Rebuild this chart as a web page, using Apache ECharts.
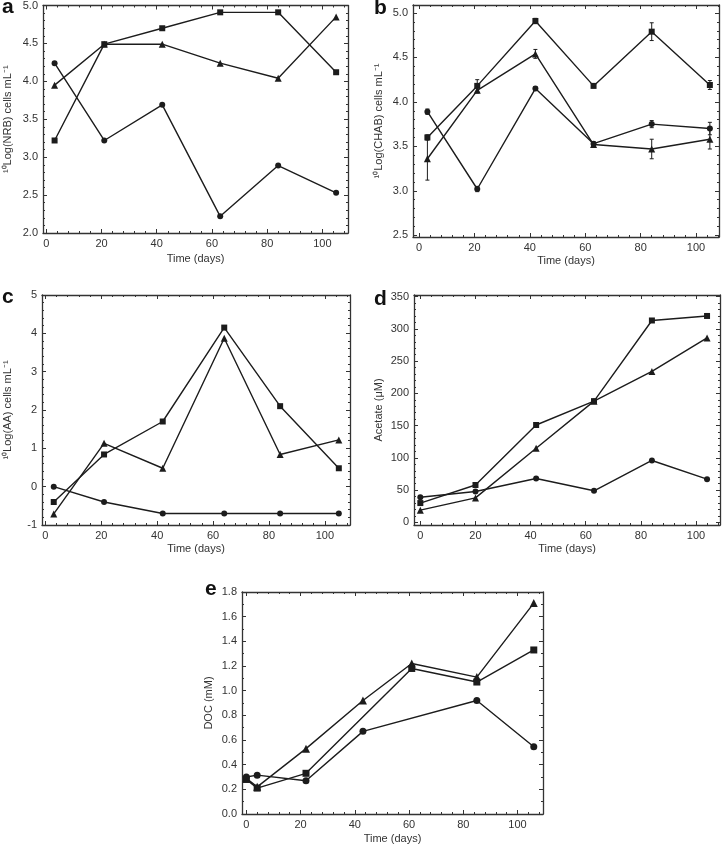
<!DOCTYPE html>
<html><head><meta charset="utf-8">
<script src="https://cdn.jsdelivr.net/npm/echarts@6/dist/echarts.min.js"></script>
<style>html,body{margin:0;padding:0;background:#fff}#c{width:724px;height:848px}</style>
</head><body><div id="c"></div>
<script>
// ---------- DATA ----------
const tickDays = [0, 20, 40, 60, 80, 100];

// a: NRB
const daysA = [3, 21, 42, 63, 84, 105];
const nrbSquare   = [3.22, 4.49, 4.70, 4.91, 4.91, 4.12];
const nrbTriangle = [3.95, 4.49, 4.49, 4.24, 4.04, 4.85];
const nrbCircle   = [4.24, 3.22, 3.69, 2.22, 2.89, 2.53];

// b: CHAB (with error bars)
const daysB = [3, 21, 42, 63, 84, 105];
const chabSquare      = [3.60, 4.18, 4.91, 4.18, 4.79, 4.19];
const chabSquareErr   = [0.03, 0.07, 0.03, 0.02, 0.10, 0.05];
const chabTriangle    = [3.36, 4.13, 4.54, 3.52, 3.47, 3.58];
const chabTriangleErr = [0.24, 0.03, 0.05, 0.02, 0.11, 0.11];
const chabCircle      = [3.89, 3.02, 4.15, 3.53, 3.75, 3.70];
const chabCircleErr   = [0.03, 0.03, 0.02, 0.02, 0.04, 0.07];

// c: AA
const daysC = [3, 21, 42, 64, 84, 105];
const aaSquare   = [-0.40, 0.84, 1.70, 4.15, 2.10, 0.48];
const aaTriangle = [-0.71, 1.13, 0.48, 3.87, 0.84, 1.22];
const aaCircle   = [0.00, -0.40, -0.70, -0.70, -0.70, -0.70];

// d: Acetate
const daysD = [0, 20, 42, 63, 84, 104];
const acSquare   = [30, 58, 151, 188, 313, 320];
const acTriangle = [19, 38, 115, 188, 234, 286];
const acCircle   = [39, 48, 68, 49, 96, 67];

// e: DOC (null = no measurement)
const daysE = [0, 4, 22, 43, 61, 85, 106];
const docSquare   = [0.28, 0.21, 0.33, null, 1.18, 1.07, 1.33];
const docTriangle = [0.29, 0.22, 0.53, 0.92, 1.22, 1.11, 1.71];
const docCircle   = [0.30, 0.315, 0.27, 0.67, null, 0.92, 0.545];

// ---------- LAYOUT / STYLE ----------
const FONT = 'Liberation Sans, Arial, sans-serif';
const INK = '#1c1c1c';
const AX = '#333';

const panels = [
  {letter:'a', grid:{left:43, top:5, width:305, height:228},
   x:{min:-1.2, max:109.3, major:20, minor:4, dec:0, nameGap:20},
   y:{min:2, max:5, major:0.5, minor:0.1, dec:1, name:'\u00B9\u2070Log(NRB) cells mL\u207B\u00B9', nameGap:30},
   days:daysA, sq:nrbSquare, tr:nrbTriangle, ci:nrbCircle, size:6,
   lx:2, ly:8},
  {letter:'b', grid:{left:413, top:5, width:306, height:232},
   x:{min:-2.2, max:108.3, major:20, minor:4, dec:0, nameGap:18},
   y:{min:2.48, max:5.09, major:0.5, minor:0.1, dec:1, name:'\u00B9\u2070Log(CHAB) cells mL\u207B\u00B9', nameGap:29},
   days:daysB, sq:chabSquare, tr:chabTriangle, ci:chabCircle, size:6,
   err:[chabSquareErr, chabTriangleErr, chabCircleErr],
   lx:374, ly:9},
  {letter:'c', grid:{left:42, top:295, width:308, height:230},
   x:{min:-1.2, max:109, major:20, minor:4, dec:0, nameGap:18},
   y:{min:-1, max:5, major:1, minor:0.2, dec:0, name:'\u00B9\u2070Log(AA) cells mL\u207B\u00B9', nameGap:29},
   days:daysC, sq:aaSquare, tr:aaTriangle, ci:aaCircle, size:6,
   lx:2, ly:298},
  {letter:'d', grid:{left:414, top:295, width:306, height:230},
   x:{min:-2.3, max:108.7, major:20, minor:4, dec:0, nameGap:18},
   y:{min:-4, max:352.5, major:50, minor:10, dec:0, name:'Acetate (\u03BCM)', nameGap:30},
   days:daysD, sq:acSquare, tr:acTriangle, ci:acCircle, size:6,
   lx:374, ly:300},
  {letter:'e', grid:{left:242, top:592, width:301, height:222},
   x:{min:-1.6, max:109.4, major:20, minor:4, dec:0, nameGap:19},
   y:{min:0, max:1.8, major:0.2, minor:0.1, dec:1, name:'DOC (mM)', nameGap:28},
   days:daysE, sq:docSquare, tr:docTriangle, ci:docCircle, size:7,
   lx:205, ly:590}
];

function fmt(step, dec) {
  return function (v) {
    const k = v / step;
    if (Math.abs(k - Math.round(k)) > 1e-6) return '';
    return dec ? v.toFixed(dec) : String(Math.round(v));
  };
}

function axisSet(gi, isX, cfg) {
  const pos = isX ? ['bottom', 'top'] : ['left', 'right'];
  const out = [];
  pos.forEach(function (p, pi) {
    [cfg.major, cfg.minor].forEach(function (step, si) {
      const main = pi === 0 && si === 0;
      const a = {
        type: 'value', gridIndex: gi, position: p,
        min: cfg.min, max: cfg.max,
        minInterval: step, maxInterval: step,
        splitNumber: Math.max(1, Math.round((cfg.max - cfg.min) / step)),
        axisLine: {show: si === 0, onZero: false, lineStyle: {color: AX, width: 1.3}},
        axisTick: {show: true, inside: true, length: si === 0 ? 4 : 2, lineStyle: {color: AX, width: 1}},
        axisLabel: {show: main, color: '#333', fontFamily: FONT, fontSize: 11,
                    margin: 5, formatter: fmt(cfg.major, cfg.dec)},
        splitLine: {show: false},
        minorTick: {show: false},
        silent: true
      };
      if (main) {
        a.name = isX ? 'Time (days)' : cfg.name;
        a.nameLocation = 'middle';
        a.nameGap = cfg.nameGap;
        a.nameTextStyle = {color: '#333', fontFamily: FONT, fontSize: 11};
        if (!isX) a.nameRotate = 90;
      }
      out.push(a);
    });
  });
  return out;
}

const grids = [], xAxes = [], yAxes = [], series = [], graphics = [];
const markers = [['rect', 'sq', 0], ['triangle', 'tr', 1], ['circle', 'ci', 2]];

panels.forEach(function (P, gi) {
  grids.push(Object.assign({containLabel: false}, P.grid));
  xAxes.push.apply(xAxes, axisSet(gi, true, P.x));
  yAxes.push.apply(yAxes, axisSet(gi, false, P.y));
  const xi = gi * 4, yi = gi * 4;
  markers.forEach(function (m) {
    const vals = P[m[1]];
    const data = [];
    P.days.forEach(function (d, i) { if (vals[i] != null) data.push([d, vals[i]]); });
    series.push({
      type: 'line', xAxisIndex: xi, yAxisIndex: yi, data: data,
      symbol: m[0], symbolSize: m[0] === 'triangle' ? P.size + 1 : P.size,
      showAllSymbol: true,
      lineStyle: {color: INK, width: 1.4},
      itemStyle: {color: INK, borderWidth: 0},
      emphasis: {disabled: true}, animation: false, z: 3
    });
    if (P.err) {
      const errs = P.err[m[2]];
      series.push({
        type: 'custom', xAxisIndex: xi, yAxisIndex: yi, z: 2, animation: false,
        data: P.days.map(function (d, i) { return [d, vals[i] - errs[i], vals[i] + errs[i]]; }),
        encode: {x: 0, y: [1, 2]},
        renderItem: function (params, api) {
          const x = api.value(0);
          const lo = api.coord([x, api.value(1)]);
          const hi = api.coord([x, api.value(2)]);
          const w = 2, st = {stroke: INK, lineWidth: 1};
          return {type: 'group', children: [
            {type: 'line', shape: {x1: lo[0], y1: lo[1], x2: hi[0], y2: hi[1]}, style: st},
            {type: 'line', shape: {x1: lo[0] - w, y1: lo[1], x2: lo[0] + w, y2: lo[1]}, style: st},
            {type: 'line', shape: {x1: hi[0] - w, y1: hi[1], x2: hi[0] + w, y2: hi[1]}, style: st}
          ]};
        }
      });
    }
  });
  graphics.push({type: 'text', left: P.lx, top: P.ly - 11, silent: true,
    style: {text: P.letter, fill: '#111', font: 'bold 21px ' + FONT}});
});

const chart = echarts.init(document.getElementById('c'), null, {renderer: 'canvas'});
chart.setOption({
  animation: false,
  backgroundColor: '#fff',
  grid: grids, xAxis: xAxes, yAxis: yAxes, series: series, graphic: graphics
});
</script></body></html>
